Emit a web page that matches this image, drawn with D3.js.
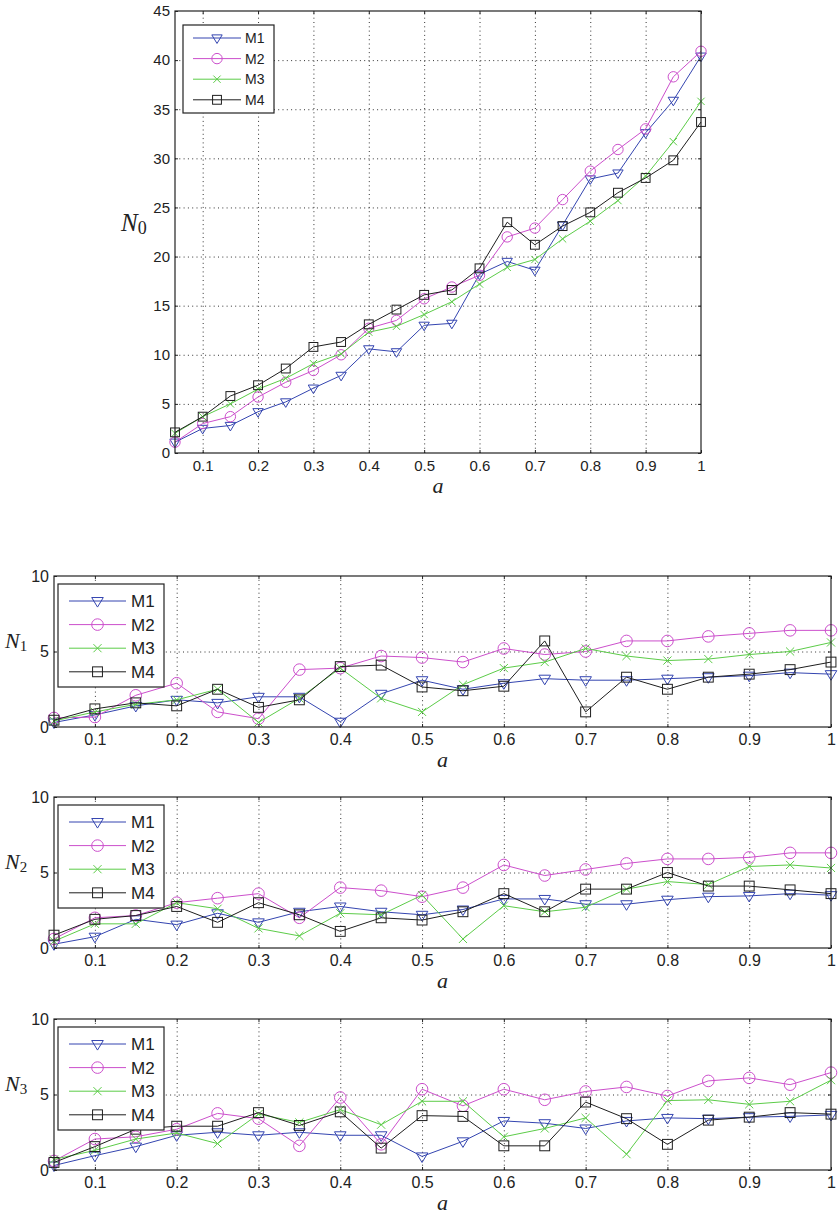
<!DOCTYPE html>
<html>
<head>
<meta charset="utf-8">
<script src="https://cdn.jsdelivr.net/npm/d3@7"></script>
<style>
  body { margin: 0; background: #fff; }
  text { font-family: "Liberation Sans", Arial, sans-serif; fill: #222; }
  .grid line { stroke: #333; stroke-dasharray: 1,3.3; }
</style>
</head>
<body>
<svg id="chart" width="839" height="1218"></svg>
<script>
// x values (a)
const aValues = [0.05, 0.1, 0.15, 0.2, 0.25, 0.3, 0.35, 0.4, 0.45, 0.5,
                 0.55, 0.6, 0.65, 0.7, 0.75, 0.8, 0.85, 0.9, 0.95, 1]
const xTickValues = [0.1, 0.2, 0.3, 0.4, 0.5, 0.6, 0.7, 0.8, 0.9, 1]
const seriesNames = ["M1", "M2", "M3", "M4"]

// N0
const n0M1 = [1.1, 2.5, 2.8, 4.2, 5.2, 6.6, 7.9, 10.6, 10.3, 13.0, 13.2, 18.2, 19.5, 18.6, 23.2, 27.9, 28.5, 32.6, 35.9, 40.4]
const n0M2 = [1.1, 3.0, 3.7, 5.7, 7.2, 8.4, 10.0, 12.7, 13.5, 15.7, 16.9, 18.1, 22.0, 22.9, 25.8, 28.7, 30.9, 33.0, 38.3, 40.9]
const n0M3 = [2.0, 3.7, 5.0, 6.5, 7.6, 9.1, 10.1, 12.3, 12.9, 14.1, 15.4, 17.2, 18.9, 19.7, 21.8, 23.6, 25.7, 28.2, 31.7, 35.8]
const n0M4 = [2.1, 3.7, 5.8, 6.9, 8.6, 10.8, 11.3, 13.1, 14.6, 16.1, 16.6, 18.8, 23.5, 21.2, 23.1, 24.5, 26.5, 28.0, 29.8, 33.7]

// N1
const n1M1 = [0.3, 0.8, 1.4, 1.8, 1.6, 2.0, 2.0, 0.35, 2.2, 3.1, 2.5, 2.9, 3.2, 3.1, 3.1, 3.2, 3.3, 3.4, 3.6, 3.5]
const n1M2 = [0.6, 0.66, 2.1, 2.9, 1.0, 0.55, 3.8, 3.9, 4.7, 4.6, 4.3, 5.2, 4.8, 5.0, 5.7, 5.7, 6.0, 6.2, 6.4, 6.4]
const n1M3 = [0.4, 1.0, 1.5, 1.8, 2.5, 0.3, 1.9, 3.9, 1.9, 1.0, 2.8, 3.9, 4.3, 5.2, 4.7, 4.4, 4.5, 4.8, 5.0, 5.6]
const n1M4 = [0.45, 1.2, 1.6, 1.4, 2.5, 1.3, 1.8, 4.0, 4.1, 2.65, 2.4, 2.7, 5.7, 1.0, 3.3, 2.5, 3.3, 3.5, 3.8, 4.3]

// N2
const n2M1 = [0.25, 0.75, 1.9, 1.55, 2.3, 1.7, 2.4, 2.75, 2.4, 2.2, 2.55, 3.25, 3.25, 2.9, 2.9, 3.2, 3.4, 3.45, 3.6, 3.5]
const n2M2 = [0.6, 2.0, 2.15, 3.0, 3.3, 3.6, 2.0, 4.0, 3.8, 3.4, 4.0, 5.5, 4.8, 5.2, 5.6, 5.9, 5.9, 6.0, 6.3, 6.3]
const n2M3 = [0.45, 1.6, 1.6, 3.0, 2.6, 1.3, 0.8, 2.3, 2.2, 3.5, 0.6, 2.8, 2.4, 2.7, 3.9, 4.4, 4.2, 5.4, 5.5, 5.3]
const n2M4 = [0.85, 1.9, 2.15, 2.75, 1.7, 3.0, 2.2, 1.1, 2.0, 1.85, 2.4, 3.6, 2.4, 3.9, 3.9, 5.0, 4.1, 4.1, 3.85, 3.6]

// N3
const n3M1 = [0.3, 0.95, 1.55, 2.3, 2.5, 2.3, 2.5, 2.3, 2.3, 0.9, 1.9, 3.25, 3.1, 2.75, 3.25, 3.45, 3.4, 3.5, 3.55, 3.65]
const n3M2 = [0.6, 2.05, 2.2, 2.7, 3.75, 3.4, 1.6, 4.8, 1.7, 5.35, 4.25, 5.35, 4.65, 5.2, 5.5, 4.9, 5.9, 6.1, 5.65, 6.45]
const n3M3 = [0.7, 1.3, 2.05, 2.45, 1.75, 3.7, 3.15, 4.0, 3.0, 4.55, 4.55, 2.2, 2.75, 3.45, 1.05, 4.6, 4.65, 4.35, 4.55, 5.95]
const n3M4 = [0.5, 1.55, 2.7, 2.9, 2.9, 3.8, 2.95, 3.85, 1.45, 3.6, 3.55, 1.6, 1.6, 4.5, 3.4, 1.7, 3.3, 3.5, 3.8, 3.7]

const n0YTicks = [0, 5, 10, 15, 20, 25, 30, 35, 40, 45]
const nYTicks = [0, 5, 10]

const colors = ["#3445b0", "#cc4fcc", "#5ccc48", "#1e1e1e"]
const shapes = ["tri", "circle", "cross", "square"]

const svg = d3.select("#chart")

function marker(g, shape, s, color) {
  if (shape == "circle") {
    g.append("circle").attr("r", s).attr("fill", "none").attr("stroke", color)
  } else if (shape == "square") {
    g.append("rect").attr("x", -s * 0.85).attr("y", -s * 0.85)
      .attr("width", s * 1.7).attr("height", s * 1.7)
      .attr("fill", "none").attr("stroke", color)
  } else if (shape == "cross") {
    var c = s * 0.7
    g.append("path").attr("d", "M" + -c + "," + -c + "L" + c + "," + c + "M" + -c + "," + c + "L" + c + "," + -c)
      .attr("stroke", color).attr("fill", "none")
  } else {
    g.append("path").attr("d", "M" + -s + "," + (-s * 0.6) + "L" + s + "," + (-s * 0.6) + "L0," + (s * 1.05) + "Z")
      .attr("fill", "none").attr("stroke", color)
  }
}

function drawPanel(p) {
  var x = d3.scaleLinear().domain([0.05, 1]).range([p.left, p.right])
  var y = d3.scaleLinear().domain([0, p.yMax]).range([p.bottom, p.top])
  var w = p.right - p.left
  var h = p.bottom - p.top

  // grid
  svg.append("g").attr("class", "grid")
    .attr("transform", "translate(0," + p.bottom + ")")
    .call(d3.axisBottom(x).tickValues(xTickValues.slice(0, -1)).tickSize(-h).tickFormat(""))
    .call(g => g.select(".domain").remove())
  svg.append("g").attr("class", "grid")
    .attr("transform", "translate(" + p.left + ",0)")
    .call(d3.axisLeft(y).tickValues(p.yTicks.slice(1, -1)).tickSize(-w).tickFormat(""))
    .call(g => g.select(".domain").remove())

  // series
  var line = d3.line().x((d, i) => x(aValues[i])).y(d => y(d))
  p.series.forEach(function (vals, k) {
    svg.append("path").datum(vals)
      .attr("d", line).attr("fill", "none")
      .attr("stroke", colors[k]).attr("stroke-width", 1)
    vals.forEach(function (v, i) {
      var g = svg.append("g").attr("transform", "translate(" + x(aValues[i]) + "," + y(v) + ")")
      marker(g, shapes[k], p.ms, colors[k])
    })
  })

  // frame and ticks
  svg.append("rect").attr("x", p.left).attr("y", p.top).attr("width", w).attr("height", h)
    .attr("fill", "none").attr("stroke", "#222").attr("stroke-width", 1.2)

  var xb = svg.append("g").attr("transform", "translate(0," + p.bottom + ")")
    .call(d3.axisBottom(x).tickValues(xTickValues).tickSize(-3).tickPadding(7).tickFormat(d3.format("~g")))
  var xt = svg.append("g").attr("transform", "translate(0," + p.top + ")")
    .call(d3.axisTop(x).tickValues(xTickValues).tickSize(-3).tickFormat(""))
  var yl = svg.append("g").attr("transform", "translate(" + p.left + ",0)")
    .call(d3.axisLeft(y).tickValues(p.yTicks).tickSize(-3).tickPadding(5))
  var yr = svg.append("g").attr("transform", "translate(" + p.right + ",0)")
    .call(d3.axisRight(y).tickValues(p.yTicks).tickSize(-3).tickFormat(""))
  ;[xb, xt, yl, yr].forEach(function (g) {
    g.select(".domain").remove()
    g.selectAll("line").attr("stroke", "#222")
    g.selectAll("text").style("font-size", p.tickFont + "px")
      .style("font-family", "Liberation Sans, Arial, sans-serif").attr("fill", "#222")
  })

  // axis labels
  svg.append("text").attr("x", (p.left + p.right) / 2).attr("y", p.bottom + 40)
    .attr("text-anchor", "middle")
    .style("font-family", "Liberation Serif, serif").style("font-style", "italic")
    .style("font-size", "22px").text("a")

  var yLab = svg.append("text").attr("x", p.labX).attr("y", p.labY)
    .style("font-family", "Liberation Serif, serif")
  yLab.append("tspan").style("font-style", "italic").style("font-size", p.labFont + "px").text("N")
  yLab.append("tspan").attr("dy", 3).style("font-size", p.subFont + "px").text(p.sub)

  // legend
  var L = p.legend
  var lg = svg.append("g").attr("transform", "translate(" + (p.left + L.x) + "," + (p.top + L.y) + ")")
  lg.append("rect").attr("width", L.w).attr("height", L.h)
    .attr("fill", "#fff").attr("stroke", "#222").attr("stroke-width", 1.2)
  seriesNames.forEach(function (name, k) {
    var cy = L.row0 + k * L.step
    lg.append("line").attr("x1", L.lx1).attr("x2", L.lx2).attr("y1", cy).attr("y2", cy)
      .attr("stroke", colors[k])
    var g = lg.append("g").attr("transform", "translate(" + (L.lx1 + L.lx2) / 2 + "," + cy + ")")
    marker(g, shapes[k], p.ms, colors[k])
    lg.append("text").attr("x", L.tx).attr("y", cy).attr("dy", "0.36em")
      .style("font-size", L.font + "px").text(name)
  })
}

var bigLegend = { x: 8, y: 14, w: 91, h: 88, row0: 13, step: 20.6, lx1: 10, lx2: 58, tx: 62, font: 14 }
var smallLegend = { x: 4, y: 8, w: 106, h: 103, row0: 17, step: 23.6, lx1: 11, lx2: 68, tx: 73, font: 17 }

var panels = [
  { left: 175, right: 701, top: 11, bottom: 453, yMax: 45, yTicks: n0YTicks,
    series: [n0M1, n0M2, n0M3, n0M4], ms: 5.2, tickFont: 15, legend: bigLegend,
    labX: 121, labY: 231, labFont: 25, subFont: 18, sub: "0" },
  { left: 54, right: 831, top: 576, bottom: 727, yMax: 10, yTicks: nYTicks,
    series: [n1M1, n1M2, n1M3, n1M4], ms: 5.8, tickFont: 16, legend: smallLegend,
    labX: 5, labY: 648, labFont: 22, subFont: 15, sub: "1" },
  { left: 54, right: 831, top: 797, bottom: 948, yMax: 10, yTicks: nYTicks,
    series: [n2M1, n2M2, n2M3, n2M4], ms: 5.8, tickFont: 16, legend: smallLegend,
    labX: 5, labY: 869, labFont: 22, subFont: 15, sub: "2" },
  { left: 54, right: 831, top: 1019, bottom: 1170, yMax: 10, yTicks: nYTicks,
    series: [n3M1, n3M2, n3M3, n3M4], ms: 5.8, tickFont: 16, legend: smallLegend,
    labX: 5, labY: 1091, labFont: 22, subFont: 15, sub: "3" }
]

panels.forEach(drawPanel)
</script>
</body>
</html>
